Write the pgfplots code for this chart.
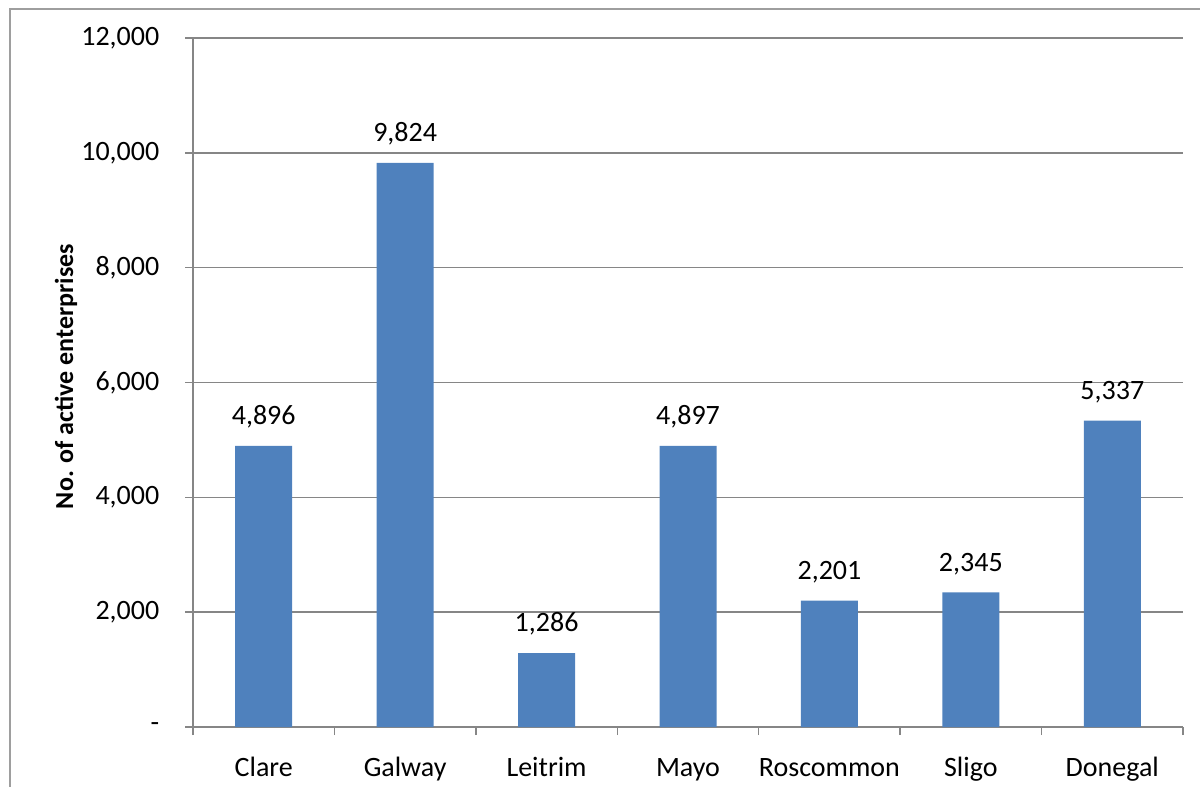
\documentclass[border=0pt]{standalone}
\usepackage{pgfplots}
\pgfplotsset{compat=1.18}
\usepackage{fontspec}
\setmainfont{Carlito}
\definecolor{barblue}{HTML}{4F81BD}
\definecolor{gridgray}{HTML}{868686}
\begin{document}
\fontsize{14}{17}\selectfont
\begin{tikzpicture}[x=0.5pt,y=0.5pt]
\path[use as bounding box] (0,0) rectangle (1200,-787);
\draw[gridgray!80, line width=1pt] (10,-790) -- (10,-9) -- (1205,-9);
\begin{axis}[
  at={(96.5pt,-363.5pt)}, anchor=south west,
  scale only axis, width=495pt, height=344.5pt,
  xmin=-0.5, xmax=6.5, ymin=0, ymax=12000,
  axis lines*=left,
  axis line style={gridgray, line width=0.75pt},
  ybar, bar width=28.5pt,
  bar shift=0pt,
  scaled y ticks=false,
  xtick={0,...,6},
  xticklabels={Clare,Galway,Leitrim,Mayo,Roscommon,Sligo,Donegal},
  major x tick style={draw=none},
  minor xtick={-0.5,0.5,...,6.5},
  minor tick length=4pt,
  minor x tick style={gridgray, line width=0.75pt},
  xticklabel style={yshift=-5pt, text height=1.6ex, text depth=0.4ex},
  ytick={0,2000,...,12000},
  yticklabels={-,{2,000},{4,000},{6,000},{8,000},{10,000},{12,000}},
  ytick style={gridgray, line width=0.75pt},
  tick align=outside,
  major tick length=4pt,
  yticklabel style={xshift=-8pt},
  ymajorgrids,
  grid style={gridgray, line width=0.75pt},
  ylabel={\fontsize{13}{15}\selectfont\textbf{No. of active enterprises}},
  ylabel style={at={(axis description cs:0,0.5)}, anchor=center, xshift=3pt, yshift=63.5pt},
  nodes near coords,
  nodes near coords style={anchor=south, yshift=4pt,
    /pgf/number format/.cd, 1000 sep={,}, assume math mode=true},
  clip=false,
]
\addplot[fill=barblue, draw=none] coordinates {
(0,4896) (1,9824) (2,1286) (3,4897) (4,2201) (5,2345) (6,5337)};
\end{axis}
\end{tikzpicture}
\end{document}
